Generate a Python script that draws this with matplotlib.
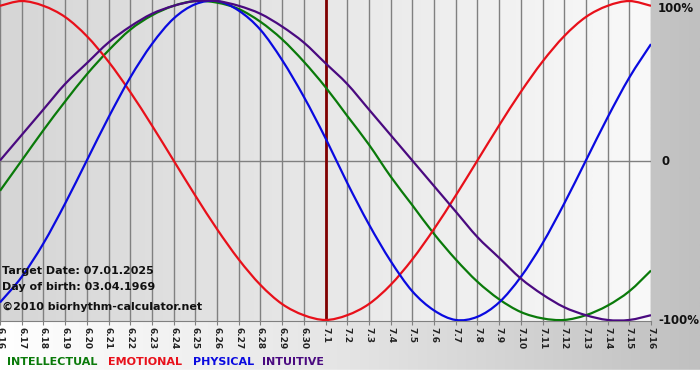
import numpy as np
import matplotlib
matplotlib.use("Agg")
import matplotlib.pyplot as plt
from matplotlib.colors import LinearSegmentedColormap
from matplotlib.path import Path
from matplotlib.patches import PathPatch

# ---- data (daily values, 6.16 .. 7.16) ----
dates = ["6.16", "6.17", "6.18", "6.19", "6.20", "6.21", "6.22", "6.23", "6.24", "6.25",
         "6.26", "6.27", "6.28", "6.29", "6.30", "7.1", "7.2", "7.3", "7.4", "7.5", "7.6",
         "7.7", "7.8", "7.9", "7.10", "7.11", "7.12", "7.13", "7.14", "7.15", "7.16"]
intellectual = [-0.19, 0.00, 0.19, 0.37, 0.54, 0.69, 0.82, 0.91, 0.97, 1.00, 0.99, 0.95, 0.87,
                0.76, 0.62, 0.46, 0.28, 0.10, -0.10, -0.28, -0.46, -0.62, -0.76, -0.87, -0.95,
                -0.99, -1.00, -0.97, -0.91, -0.82, -0.69]
emotional = [0.97, 1.00, 0.97, 0.90, 0.78, 0.62, 0.43, 0.22, 0.00, -0.22, -0.43, -0.62, -0.78,
             -0.90, -0.97, -1.00, -0.97, -0.90, -0.78, -0.62, -0.43, -0.22, 0.00, 0.22, 0.43,
             0.62, 0.78, 0.90, 0.97, 1.00, 0.97]
physical = [-0.89, -0.73, -0.52, -0.27, 0.00, 0.27, 0.52, 0.73, 0.89, 0.98, 1.00, 0.94, 0.82,
            0.63, 0.40, 0.14, -0.14, -0.40, -0.63, -0.82, -0.94, -1.00, -0.98, -0.89, -0.73,
            -0.52, -0.27, 0.00, 0.27, 0.52, 0.73]
intuitive = [0.00, 0.16, 0.32, 0.48, 0.61, 0.74, 0.84, 0.92, 0.97, 1.00, 1.00, 0.97, 0.92, 0.84,
             0.74, 0.61, 0.48, 0.32, 0.16, 0.00, -0.16, -0.32, -0.48, -0.61, -0.74, -0.84,
             -0.92, -0.97, -1.00, -1.00, -0.97]
target_label = "7.1"
y_labels = ["100%", "0", "-100%"]
series_names = ["INTELLECTUAL", "EMOTIONAL", "PHYSICAL", "INTUITIVE"]
info_lines = ["Target Date: 07.01.2025", "Day of birth: 03.04.1969", "\u00a92010 biorhythm-calculator.net"]

colors = {"INTELLECTUAL": "#0a7a0a", "EMOTIONAL": "#e8101a", "PHYSICAL": "#0a0ae0", "INTUITIVE": "#4a0a80"}

W, H = 700, 380
fig = plt.figure(figsize=(W / 100, H / 100), dpi=100)

# figure background gradient (white -> grey)
bg = fig.add_axes([0, 0, 1, 1], zorder=0)
bg.set_axis_off()
grad = np.linspace(0, 1, 256).reshape(1, -1)
cmap_bg = LinearSegmentedColormap.from_list("bg", ["#ffffff", "#e4e4e4", "#c0c0c0"])
bg.imshow(grad, aspect="auto", cmap=cmap_bg, extent=[0, 1, 0, 1])
bg.axhspan(0, 10 / H, color="#ffffff", zorder=2)
bg.set_xlim(0, 1)
bg.set_ylim(0, 1)

ax_top, ax_bot, ax_right = 0, 321, 651
ax = fig.add_axes([0, 1 - ax_bot / H, ax_right / W, (ax_bot - ax_top) / H], zorder=1)
x = np.arange(len(dates))
ax.set_xlim(0, len(dates) - 1)
ax.set_ylim(-1.0065, 1.0065)

cmap_ax = LinearSegmentedColormap.from_list("ax", ["#d6d6d6", "#e8e8e8", "#f9f9f9"])
ax.imshow(grad, aspect="auto", cmap=cmap_ax, extent=[0, len(dates) - 1, -1.0065, 1.0065], zorder=0)

for xi in x:
    ax.axvline(xi, color="#808080", lw=1.0, zorder=1)
ax.axhline(0, color="#808080", lw=1.0, zorder=1)
ax.axvline(dates.index(target_label), color="#800000", lw=2.0, zorder=2)


def smooth_path(xs, ys):
    """Catmull-Rom curve through the daily points, drawn as cubic Bezier segments."""
    xs = np.asarray(xs, float)
    ys = np.asarray(ys, float)
    n = len(xs)
    verts = [(xs[0], ys[0])]
    codes = [Path.MOVETO]
    for i in range(n - 1):
        p0 = (xs[max(i - 1, 0)], ys[max(i - 1, 0)])
        p1 = (xs[i], ys[i])
        p2 = (xs[i + 1], ys[i + 1])
        p3 = (xs[min(i + 2, n - 1)], ys[min(i + 2, n - 1)])
        c1 = (p1[0] + (p2[0] - p0[0]) / 6, p1[1] + (p2[1] - p0[1]) / 6)
        c2 = (p2[0] - (p3[0] - p1[0]) / 6, p2[1] - (p3[1] - p1[1]) / 6)
        verts += [c1, c2, p2]
        codes += [Path.CURVE4] * 3
    return Path(verts, codes)


for name, vals in zip(series_names, [intellectual, emotional, physical, intuitive]):
    ax.add_patch(PathPatch(smooth_path(x, vals), facecolor="none", edgecolor=colors[name],
                           lw=1.6, zorder=3))

for s in ["left", "right", "top"]:
    ax.spines[s].set_visible(False)
ax.spines["bottom"].set_color("#808080")
ax.set_yticks([])
ax.set_xticks(x)
ax.set_xticklabels(dates, rotation=270, fontsize=6.5, fontweight="bold", color="#222222",
                   family="DejaVu Sans")
ax.tick_params(axis="x", length=3, color="#808080", pad=1)

# info text
for i, line in enumerate(info_lines):
    fig.text(2 / W, 1 - (271 + i * 16 + (4 if i == 2 else 0)) / H, line, fontsize=8,
             fontweight="bold", color="#111111", va="center", ha="left", zorder=5)

# right labels
for lab, yv in zip(y_labels, [1, 0, -1]):
    ypix = 160.5 - yv * 159.5
    ypix = max(ypix, 7)
    xpix = 658 if lab != "0" else 661
    fig.text(xpix / W, 1 - (ypix + 1) / H, lab, fontsize=8.5, fontweight="bold",
             color="#111111", va="center", ha="left")

# legend text
xs = [7, 108, 193, 262]
for name, xp in zip(series_names, xs):
    fig.text(xp / W, 1 - 362 / H, name, fontsize=8, fontweight="bold", color=colors[name],
             va="center", ha="left")

fig.savefig("out.png", dpi=100)
